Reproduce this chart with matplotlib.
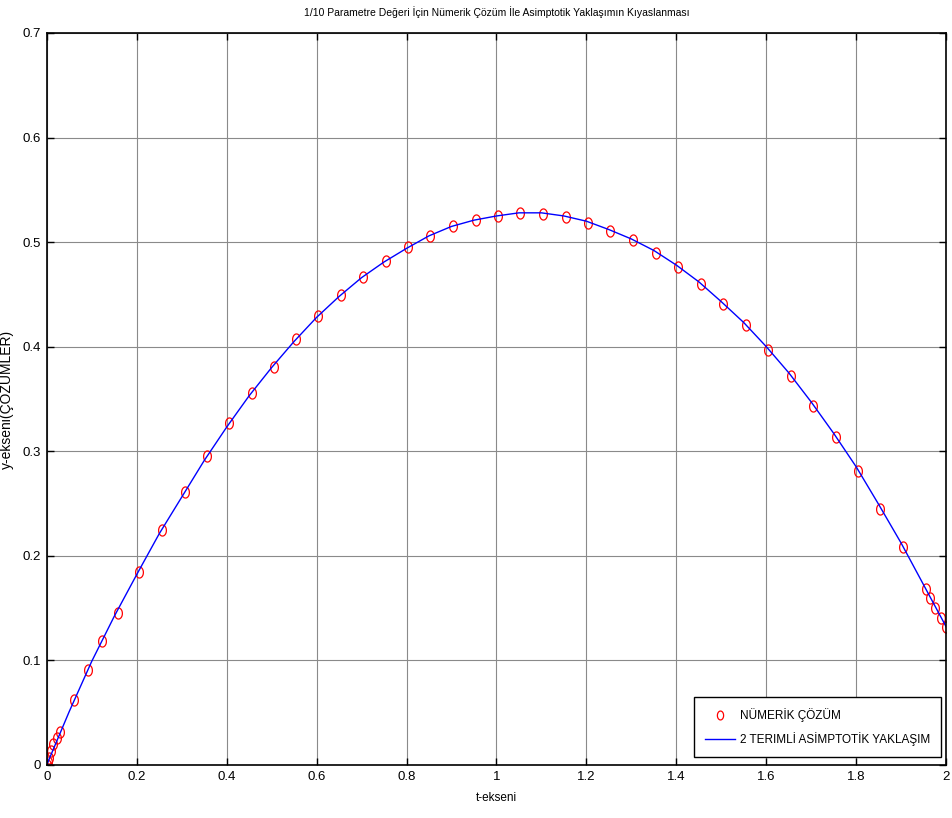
import numpy as np
import matplotlib
matplotlib.use('Agg')
from matplotlib import pyplot as plt
from matplotlib.path import Path

plt.rcParams['font.family'] = ['Liberation Sans', 'DejaVu Sans']

# numerical solution (ode45 output points)
t_num = [0.0, 0.002, 0.005, 0.009, 0.015, 0.022, 0.030, 0.061, 0.092, 0.123,
         0.159, 0.205, 0.256, 0.308, 0.356, 0.405, 0.457, 0.505, 0.554, 0.603,
         0.654, 0.703, 0.754, 0.803, 0.852, 0.903, 0.955, 1.003, 1.052, 1.104,
         1.155, 1.204, 1.253, 1.304, 1.355, 1.404, 1.455, 1.504, 1.555, 1.604,
         1.655, 1.704, 1.755, 1.804, 1.853, 1.904, 1.956, 1.964, 1.976, 1.988,
         1.999]
y_num = [0.0, 0.003, 0.007, 0.013, 0.020, 0.026, 0.032, 0.062, 0.091, 0.119,
         0.145, 0.185, 0.225, 0.261, 0.295, 0.327, 0.356, 0.381, 0.407, 0.429,
         0.449, 0.467, 0.482, 0.495, 0.506, 0.515, 0.521, 0.525, 0.528, 0.527,
         0.524, 0.518, 0.511, 0.502, 0.490, 0.476, 0.460, 0.441, 0.421, 0.397,
         0.372, 0.343, 0.314, 0.281, 0.245, 0.208, 0.168, 0.160, 0.150, 0.141,
         0.132]

# two-term asymptotic approximation
t_asym = [0.0, 0.05, 0.10, 0.15, 0.20, 0.25, 0.30, 0.35, 0.40, 0.45, 0.50,
          0.55, 0.60, 0.65, 0.70, 0.75, 0.80, 0.85, 0.90, 0.95, 1.00,
          1.05, 1.10, 1.15, 1.20, 1.25, 1.30, 1.35, 1.40, 1.45, 1.50,
          1.55, 1.60, 1.65, 1.70, 1.75, 1.80, 1.85, 1.90, 1.95, 2.00]
y_asym = [0.0, 0.051, 0.099, 0.142, 0.182, 0.221, 0.256, 0.291, 0.323, 0.353, 0.380,
          0.405, 0.428, 0.448, 0.466, 0.481, 0.494, 0.506, 0.515, 0.521, 0.525,
          0.528, 0.528, 0.525, 0.520, 0.512, 0.503, 0.492, 0.478, 0.462, 0.443,
          0.423, 0.400, 0.375, 0.347, 0.317, 0.285, 0.249, 0.212, 0.172, 0.132]

x_ticks = [0, 0.2, 0.4, 0.6, 0.8, 1, 1.2, 1.4, 1.6, 1.8, 2]
x_ticklabels = ['0', '0.2', '0.4', '0.6', '0.8', '1', '1.2', '1.4', '1.6', '1.8', '2']
y_ticks = [0, 0.1, 0.2, 0.3, 0.4, 0.5, 0.6, 0.7]
y_ticklabels = ['0', '0.1', '0.2', '0.3', '0.4', '0.5', '0.6', '0.7']

# slightly tall ellipse marker
th = np.linspace(0, 2 * np.pi, 41)
ellipse = Path(np.column_stack([0.7 * np.cos(th), np.sin(th)]), closed=True)

fig = plt.figure(figsize=(9.53, 8.18), dpi=100)
ax = fig.add_axes([0.049, 0.0648, 0.9439, 0.8949])

ax.plot(t_num, y_num, linestyle='none', marker=ellipse, markersize=8,
        markerfacecolor='none', markeredgecolor='red', markeredgewidth=0.9,
        label='NÜMERİK ÇÖZÜM')
ax.plot(t_asym, y_asym, color='blue', lw=1.0, label='2 TERIMLİ ASİMPTOTİK YAKLAŞIM')

ax.set_xlim(0, 2)
ax.set_ylim(0, 0.7)
ax.set_xticks(x_ticks)
ax.set_xticklabels(x_ticklabels)
ax.set_yticks(y_ticks)
ax.set_yticklabels(y_ticklabels)
ax.grid(True, color='#8a8a8a', lw=0.8)
ax.tick_params(direction='in', top=True, right=True, length=5, width=1,
               labelsize=9.5, pad=4)
for s in ax.spines.values():
    s.set_linewidth(1.2)
    s.set_color('black')

ax.set_title('1/10 Parametre Değeri İçin Nümerik Çözüm İle Asimptotik Yaklaşımın Kıyaslanması',
             fontsize=7.5, pad=12)
ax.set_xlabel('t-ekseni', fontsize=8.5, labelpad=7)
ax.set_ylabel('y-ekseni(ÇÖZÜMLER)', fontsize=10)
ax.yaxis.set_label_coords(-0.036, 0.5)

leg = ax.legend(loc='lower right', bbox_to_anchor=(0.994, 0.011), borderaxespad=0,
                numpoints=1, fancybox=False, framealpha=1, fontsize=8.5,
                handlelength=2.6, handletextpad=0.4, borderpad=0.9, labelspacing=0.9,
                markerscale=0.8)
leg.get_frame().set_edgecolor('black')
leg.get_frame().set_linewidth(1.0)

fig.savefig('out.png', dpi=100)
